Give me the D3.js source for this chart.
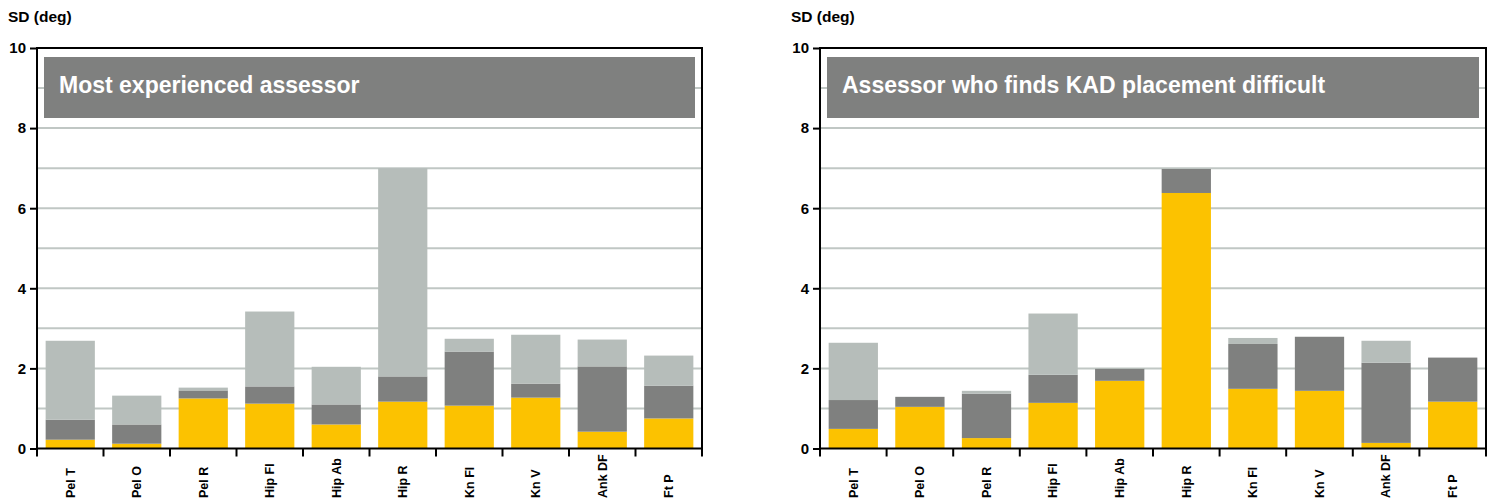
<!DOCTYPE html>
<html>
<head>
<meta charset="utf-8">
<script src="https://cdn.jsdelivr.net/npm/d3@7"></script>
<style>
  html, body { margin: 0; padding: 0; background: #fff; }
  svg { display: block; font-family: "Liberation Sans", Arial, Helvetica, sans-serif; }
</style>
</head>
<body>
<svg id="chart" width="1496" height="503"></svg>
<script>
// Joint-angle categories shared by both panels
const categories = ["Pel T", "Pel O", "Pel R", "Hip Fl", "Hip Ab", "Hip R", "Kn Fl", "Kn V", "Ank DF", "Ft P"];

// Stacked SD components (deg): bottom (yellow), middle (dark grey), top (light grey)
const expertBottom = [0.22, 0.12, 1.25, 1.12, 0.60, 1.17, 1.07, 1.27, 0.42, 0.75];
const expertMiddle = [0.50, 0.48, 0.20, 0.43, 0.50, 0.63, 1.35, 0.35, 1.63, 0.82];
const expertTop    = [1.97, 0.72, 0.07, 1.87, 0.94, 5.20, 0.32, 1.22, 0.67, 0.75];

const difficultBottom = [0.49, 1.04, 0.26, 1.14, 1.69, 6.38, 1.49, 1.44, 0.14, 1.17];
const difficultMiddle = [0.72, 0.25, 1.11, 0.70, 0.30, 0.60, 1.12, 1.35, 2.00, 1.10];
const difficultTop    = [1.43, 0.00, 0.07, 1.53, 0.02, 0.00, 0.15, 0.00, 0.55, 0.00];

const yTicks = [0, 2, 4, 6, 8, 10];
const gridValues = [1, 2, 3, 4, 5, 6, 7, 8, 9];
const seriesKeys = ["bottom", "middle", "top"];
const seriesColors = ["#fcc200", "#7f807f", "#b6bdba"];

const svg = d3.select("#chart");

function drawPanel(opts) {
  const rows = categories.map((c, i) => ({
    cat: c,
    bottom: opts.bottom[i],
    middle: opts.middle[i],
    top: opts.top[i]
  }));

  const x = d3.scaleBand().domain(categories).range([opts.left, opts.right]).paddingInner(0.26).paddingOuter(0.13);
  const y = d3.scaleLinear().domain([0, 10]).range([448.5, 48]);

  const g = svg.append("g");

  // Horizontal gridlines
  g.append("g").selectAll("line").data(gridValues).join("line")
    .attr("x1", opts.left).attr("x2", opts.right)
    .attr("y1", d => y(d)).attr("y2", d => y(d))
    .attr("stroke", "#c0c7c4").attr("stroke-width", 2);

  // Stacked bars
  const stacked = d3.stack().keys(seriesKeys)(rows);
  g.append("g").selectAll("g").data(stacked).join("g")
    .attr("fill", (d, i) => seriesColors[i])
    .selectAll("rect").data(d => d).join("rect")
      .attr("x", d => x(d.data.cat))
      .attr("width", x.bandwidth())
      .attr("y", d => y(d[1]))
      .attr("height", d => Math.max(0, y(d[0]) - y(d[1])));

  // Title banner
  g.append("rect")
    .attr("x", opts.left + 7).attr("y", 57)
    .attr("width", opts.right - opts.left - 14).attr("height", 61)
    .attr("fill", "#7f807f");
  g.append("text")
    .attr("x", opts.left + 22).attr("y", 93)
    .attr("fill", "#fff").attr("font-size", 23).attr("font-weight", "bold")
    .text(opts.title);

  // Y axis with labels at even values
  const yAxis = d3.axisLeft(y).tickValues(yTicks).tickSize(7).tickPadding(4).tickFormat(d3.format("d"));
  const ya = g.append("g").attr("transform", `translate(${opts.left},0)`).call(yAxis);
  ya.select(".domain").remove();
  ya.selectAll(".tick line").attr("stroke", "#000").attr("stroke-width", 2);
  ya.selectAll(".tick text").attr("font-size", 15).attr("font-weight", "bold").attr("fill", "#000")
    .attr("font-family", "Liberation Sans, Arial, sans-serif");

  // X axis: ticks at band boundaries
  const bounds = categories.map(c => x(c) - x.step() * x.paddingInner() / 2);
  bounds.push(opts.right);
  g.append("g").selectAll("line").data(bounds).join("line")
    .attr("x1", d => d).attr("x2", d => d)
    .attr("y1", y(0)).attr("y2", y(0) + 8)
    .attr("stroke", "#000").attr("stroke-width", 2);

  // Frame
  g.append("rect")
    .attr("x", opts.left).attr("y", y(10))
    .attr("width", opts.right - opts.left).attr("height", y(0) - y(10))
    .attr("fill", "none").attr("stroke", "#000").attr("stroke-width", 2);

  // Category labels, rotated
  g.append("g").selectAll("text").data(categories).join("text")
    .attr("transform", d => `translate(${x(d) + x.bandwidth() / 2},498) rotate(-90)`)
    .attr("dy", "0.35em")
    .attr("font-size", 12.5).attr("font-weight", "bold")
    .text(d => d);

  // Axis title
  g.append("text")
    .attr("x", opts.left - 29).attr("y", 22)
    .attr("font-size", 15.5).attr("font-weight", "bold")
    .text("SD (deg)");
}

drawPanel({ left: 37, right: 702, title: "Most experienced assessor",
  bottom: expertBottom, middle: expertMiddle, top: expertTop });
drawPanel({ left: 820, right: 1486, title: "Assessor who finds KAD placement difficult",
  bottom: difficultBottom, middle: difficultMiddle, top: difficultTop });
</script>
</body>
</html>
